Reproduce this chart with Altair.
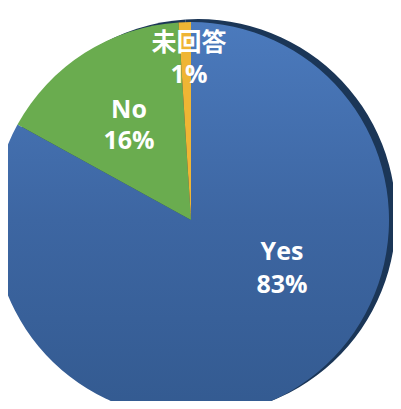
import altair as alt
import pandas as pd

labels = ["Yes", "No", "未回答"]
values = [83, 16, 1]
pct_text = ["83%", "16%", "1%"]
colors = ["#3f68a6", "#6aac4f", "#efb534"]

df = pd.DataFrame({"label": labels, "value": values, "pct": pct_text,
                   "order": list(range(len(labels)))})

CX, CY, R = 183, 212, 198

base = alt.Chart(df).transform_window(
    cum="sum(value)", sort=[alt.SortField("order")], frame=[None, 0]
).transform_calculate(start="datum.cum - datum.value")

theta_scale = alt.Scale(domain=[0, 100], range=[0, 6.283185307179586])

shadow = base.mark_arc(color="#1b3657", radius=R).encode(
    theta=alt.Theta("start:Q", scale=theta_scale),
    theta2="cum:Q",
    x=alt.value(CX + 7), y=alt.value(CY - 3),
)

yes_grad = alt.Gradient(
    gradient="linear", x1=0, y1=0, x2=0, y2=1,
    stops=[alt.GradientStop(color="#4b7abd", offset=0),
           alt.GradientStop(color="#3d66a2", offset=0.5),
           alt.GradientStop(color="#335a90", offset=1)])

pie = base.mark_arc(radius=R).encode(
    theta=alt.Theta("start:Q", scale=theta_scale),
    theta2="cum:Q",
    color=alt.condition(alt.datum.label == "Yes", alt.value(yes_grad),
                        alt.Color("label:N", scale=alt.Scale(domain=labels, range=colors), legend=None)),
    x=alt.value(CX), y=alt.value(CY),
)

label_pos = {"Yes": (274, 244, 277), "No": (121, 102, 133), "未回答": (181, 35, 67)}
texts = []
for lab, (tx, ty1, ty2) in label_pos.items():
    for fld, ty in (("label", ty1), ("pct", ty2)):
        texts.append(
            alt.Chart(df).transform_filter(alt.datum.label == lab).mark_text(
                font="Open Sans, Noto Sans CJK JP", fontSize=25, fontWeight="bold",
                color="white", align="center", baseline="middle",
            ).encode(text=f"{fld}:N", x=alt.value(tx), y=alt.value(ty))
        )

chart = alt.layer(shadow, pie, *texts).properties(
    width=385, height=393, autosize="none", padding=0, background="white"
).configure_view(stroke=None)

chart.save("out.html", embed_options={"renderer": "svg", "actions": False})
